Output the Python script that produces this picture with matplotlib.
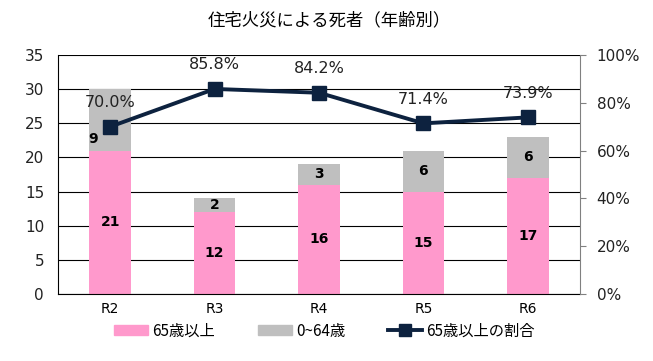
import matplotlib
matplotlib.use("Agg")
import matplotlib.pyplot as plt
from matplotlib.lines import Line2D
from matplotlib.patches import Patch
import numpy as np

plt.rcParams['font.family'] = ['DejaVu Sans', 'Noto Sans CJK JP']

categories = ["R2", "R3", "R4", "R5", "R6"]
elderly = [21, 12, 16, 15, 17]
younger = [9, 2, 3, 6, 6]
ratio = [70.0, 85.8, 84.2, 71.4, 73.9]

title = "住宅火災による死者（年齢別）"
legend_labels = ["65歳以上", "0~64歳", "65歳以上の割合"]

pink = "#FF99CC"
gray = "#BFBFBF"
navy = "#0D223F"

fig = plt.figure(figsize=(6.53, 3.61), dpi=100)
ax = fig.add_axes([58/653, 1-294/361, (580-58)/653, (294-55)/361])
x = np.arange(len(categories))

ax.bar(x, elderly, width=0.4, color=pink, zorder=2)
ax.bar(x, younger, width=0.4, bottom=elderly, color=gray, zorder=2)
ax.set_ylim(0, 35)
ax.set_xlim(-0.5, len(categories) - 0.5)
ax.set_yticks(range(0, 36, 5))
ax.yaxis.grid(True, color="black", linewidth=0.8, zorder=0)
ax.set_axisbelow(True)
for s in ["top", "right"]:
    ax.spines[s].set_visible(False)
ax.spines["left"].set_color("black")
ax.spines["bottom"].set_color("black")
ax.tick_params(axis="y", length=0, labelsize=11, pad=10, labelcolor="#222222")
ax.tick_params(axis="x", length=0, labelsize=10, pad=6)
ax.set_xticks(x)
ax.set_xticklabels(categories)

jp = ['Noto Sans CJK JP', 'DejaVu Sans']
for i, (e, y) in enumerate(zip(elderly, younger)):
    ax.text(i, e / 2, str(e), ha="center", va="center", fontsize=10, fontweight="bold", zorder=5)
    if i == 0:
        ax.text(i - 0.16, e + y / 2 - 2.8, str(y), ha="center", va="center", fontsize=10, fontweight="bold", zorder=5)
    else:
        ax.text(i, e + y / 2, str(y), ha="center", va="center", fontsize=10, fontweight="bold", zorder=5)

ax2 = ax.twinx()
ax2.set_position(ax.get_position())
ax2.plot(x, ratio, color=navy, linewidth=2.8, marker="s", markersize=10, zorder=6)
ax2.set_ylim(0, 100)
ax2.set_yticks(range(0, 101, 20))
ax2.set_yticklabels([f"{v}%" for v in range(0, 101, 20)])
for s in ["top", "left", "bottom"]:
    ax2.spines[s].set_visible(False)
ax2.spines["right"].set_color("#808080")
ax2.tick_params(axis="y", length=4, color="#808080", labelsize=11, pad=8, labelcolor="#222222")
for i, r in enumerate(ratio):
    ax2.annotate(f"{r:.1f}%", (i, r), xytext=(0, 12), textcoords="offset points",
                 ha="center", va="bottom", fontsize=11.5, color="#222222")

fig.text(0.505, 0.945, title, ha="center", va="center", fontsize=12.5, family=jp)

handles = [Patch(color=pink), Patch(color=gray),
           Line2D([0], [0], color=navy, linewidth=2.8, marker="s", markersize=9)]
fig.legend(handles, legend_labels, loc="center", bbox_to_anchor=(0.497, 0.083), ncol=3,
           frameon=False, prop={'family': jp, 'size': 11}, handlelength=2.2,
           handleheight=0.6, columnspacing=2.8, handletextpad=0.3)

fig.savefig("out.png", dpi=100)
